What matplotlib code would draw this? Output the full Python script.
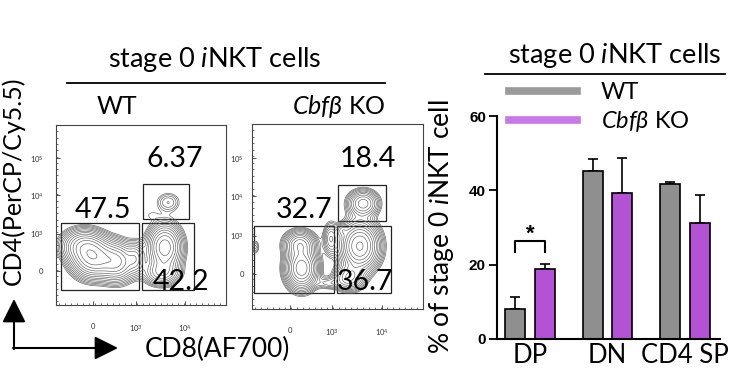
import numpy as np
import matplotlib
matplotlib.use('Agg')
import matplotlib.pyplot as plt
from matplotlib.patches import Rectangle
from matplotlib.lines import Line2D

plt.rcParams['font.family'] = ['Lato', 'DejaVu Sans']
plt.rcParams['mathtext.fontset'] = 'custom'
plt.rcParams['mathtext.rm'] = 'Lato'
plt.rcParams['mathtext.it'] = 'Lato:italic'
plt.rcParams['mathtext.fallback'] = 'stixsans'

# bar chart: % of stage 0 iNKT cells
groups = ['DP', 'DN', 'CD4 SP']
wt_mean = [8.1, 45.2, 41.7]
wt_err = [3.1, 3.1, 0.6]
ko_mean = [18.9, 39.2, 31.2]
ko_err = [1.3, 9.4, 7.6]

# flow populations on the CD8 / CD4 plot scale (0-100):
# (cd8, cd4, spread cd8, spread cd4, weight)
wt_pops = [
    (22, 26, 7, 6, 1.0),
    (16, 33, 7, 5, 0.6),
    (36, 24, 6, 6, 0.7),
    (47, 26, 3, 5, 0.3),
    (64, 32, 5.5, 7, 0.85),
    (62, 18, 6, 4, 0.4),
    (66, 57, 4.5, 3.5, 0.12),
    (56, 50, 3, 2, 0.04),
]
ko_pops = [
    (29, 22, 5, 6, 0.9),
    (28, 35, 5, 4, 0.5),
    (46, 38, 2.5, 5, 0.2),
    (52.6, 42.7, 2, 2, 0.15),
    (63, 34, 6, 7, 1.0),
    (57, 17, 5, 4, 0.35),
    (65, 57, 5, 4, 0.4),
    (2, 33.5, 1.5, 2.5, 0.08),
    (45, 14, 5, 2, 0.1),
]
# gates (x0, y0, x1, y1) and frequencies
wt_gates = [(2.9, 8.3, 48.8, 45.6), (50.6, 8.3, 81.2, 45.6), (51.2, 47.8, 78.2, 67.2)]
ko_gates = [(1.2, 8.6, 48.0, 44.9), (49.7, 8.6, 81.3, 44.9), (50.3, 47.6, 78.4, 67.0)]
wt_freq = ['47.5', '42.2', '6.37']
ko_freq = ['32.7', '36.7', '18.4']
wt_freq_xy = [(27.6, 52.8), (73.5, 12.8), (70, 81.1)]
ko_freq_xy = [(30.4, 53.5), (66.1, 14.6), (67.8, 81.1)]

x_ticks = [22, 47, 76]
x_ticklabels = ['0', '$10^3$', '$10^4$']
y_ticks = [19, 39.5, 61, 81.5]
y_ticklabels = ['0', '$10^3$', '$10^4$', '$10^5$']

fig = plt.figure(figsize=(7.49, 3.85), dpi=100)


def px(x0, y0, x1, y1):
    return [x0 / 749, 1 - y1 / 385, (x1 - x0) / 749, (y1 - y0) / 385]


gx, gy = np.meshgrid(np.linspace(0, 100, 400), np.linspace(0, 100, 400))


def flow_plot(rect, pops, gates, freq, freq_xy, ypad):
    ax = fig.add_axes(rect)
    z = np.zeros_like(gx)
    for cx, cy, sx, sy, w in pops:
        z += w * np.exp(-0.5 * (((gx - cx) / sx) ** 2 + ((gy - cy) / sy) ** 2))
    z = z / z.max()
    ax.contour(gx, gy, z, levels=np.geomspace(0.035, 0.95, 14),
               colors='#5e5e5e', linewidths=0.45)
    for (x0, y0, x1, y1) in gates:
        ax.add_patch(Rectangle((x0, y0), x1 - x0, y1 - y0, fill=False,
                               ec='#222222', lw=0.9))
    for s, (x, y) in zip(freq, freq_xy):
        ax.text(x, y, s, ha='center', va='center', fontsize=20.5)
    ax.set_xlim(0, 100)
    ax.set_ylim(0, 100)
    ax.set_xticks(x_ticks)
    ax.set_xticklabels(x_ticklabels)
    ax.set_yticks(y_ticks)
    ax.set_yticklabels(y_ticklabels)
    ax.set_xticks(np.arange(2, 100, 3.5), minor=True)
    ax.set_yticks(np.arange(2, 100, 3.5), minor=True)
    ax.tick_params(which='major', direction='in', length=3, width=0.6,
                   labelsize=5.5, colors='#333333')
    ax.tick_params(axis='x', which='major', pad=13)
    ax.tick_params(axis='y', which='major', pad=ypad)
    ax.tick_params(which='minor', direction='in', length=1.5, width=0.5,
                   colors='#333333')
    for sp in ax.spines.values():
        sp.set_linewidth(0.8)
        sp.set_color('#444444')
    return ax


flow_plot(px(56, 125, 226, 305), wt_pops, wt_gates, wt_freq, wt_freq_xy, 9)
flow_plot(px(252, 124, 423, 309), ko_pops, ko_gates, ko_freq, ko_freq_xy, 6)

# bar chart
ax = fig.add_axes(px(497, 116, 720, 339))
x = np.arange(len(groups))
off = 0.1875
w = 0.258
ax.bar(x - off, wt_mean, w, color='#8f8f8f', edgecolor='black', linewidth=1.2, zorder=2)
ax.bar(x + off, ko_mean, w, color='#b452d6', edgecolor='black', linewidth=1.2, zorder=2)
ax.errorbar(x - off, wt_mean, yerr=[np.zeros(3), wt_err], fmt='none',
            ecolor='black', elinewidth=1.2, capsize=3.5, capthick=1.2, zorder=1)
ax.errorbar(x + off, ko_mean, yerr=[np.zeros(3), ko_err], fmt='none',
            ecolor='black', elinewidth=1.2, capsize=3.5, capthick=1.2, zorder=1)
# significance bracket for DP
ax.plot([x[0] - off, x[0] - off, x[0] + off, x[0] + off], [23.5, 26.3, 26.3, 23.5],
        color='black', lw=1.5)
ax.text(x[0], 28.2, '*', ha='center', va='center', fontsize=16, fontweight='bold',
        family='Liberation Sans')
ax.set_xlim(-0.426, 2.452)
ax.set_ylim(0, 60)
ax.set_yticks([0, 20, 40, 60])
ax.set_xticks(x)
ax.set_xticklabels(groups, fontsize=18.5)
for t in ax.get_yticklabels():
    t.set_fontweight('bold')
    t.set_family('Liberation Sans')
    t.set_fontsize(11)
ax.tick_params(axis='x', length=0, pad=3)
ax.tick_params(axis='y', length=6, width=1.3, pad=2)
for s in ['top', 'right']:
    ax.spines[s].set_visible(False)
for s in ['left', 'bottom']:
    ax.spines[s].set_linewidth(1.5)
handles = [Line2D([], [], color='#9a9a9a', lw=5.5),
           Line2D([], [], color='#c878e8', lw=5.5)]
ax.legend(handles, ['WT', r'$\it{Cbfβ}$ KO'], loc='upper left',
          bbox_to_anchor=(509 / 749, 1 - 82 / 385), bbox_transform=fig.transFigure,
          frameon=False, fontsize=17, handlelength=2.9, handletextpad=1.0,
          borderpad=0, borderaxespad=0, labelspacing=0.25)

# overlay for headers, axis titles and arrows (pixel coordinates)
ov = fig.add_axes([0, 0, 1, 1])
ov.set_xlim(0, 749)
ov.set_ylim(385, 0)
ov.axis('off')
ov.patch.set_alpha(0)
ov.text(215, 60, r'stage 0 $\it{i}$NKT cells', ha='center', va='center', fontsize=19.5)
ov.plot([67, 385], [83, 83], color='black', lw=1.3)
ov.text(117, 107, 'WT', ha='center', va='center', fontsize=18)
ov.text(339, 107, r'$\it{Cbfβ}$ KO', ha='center', va='center', fontsize=18)
ov.text(615, 55, r'stage 0 $\it{i}$NKT cells', ha='center', va='center', fontsize=19.5)
ov.plot([485, 725], [74, 74], color='black', lw=1.3)
ov.text(13, 181, 'CD4(PerCP/Cy5.5)', ha='center', va='center', rotation=90, fontsize=18)
ov.text(217, 349, 'CD8(AF700)', ha='center', va='center', fontsize=19)
ov.text(442, 227, r'% of stage 0 $\it{i}$NKT cell', ha='center', va='center',
        rotation=90, fontsize=19)
ov.annotate('', xy=(14, 299), xytext=(14, 349),
            arrowprops=dict(arrowstyle='-|>,head_length=0.4,head_width=0.2',
                            mutation_scale=36, lw=1.5, color='black',
                            shrinkA=0, shrinkB=0))
ov.annotate('', xy=(118, 348), xytext=(13, 348),
            arrowprops=dict(arrowstyle='-|>,head_length=0.4,head_width=0.2',
                            mutation_scale=36, lw=1.5, color='black',
                            shrinkA=0, shrinkB=0))

fig.savefig('out.png', dpi=100)
